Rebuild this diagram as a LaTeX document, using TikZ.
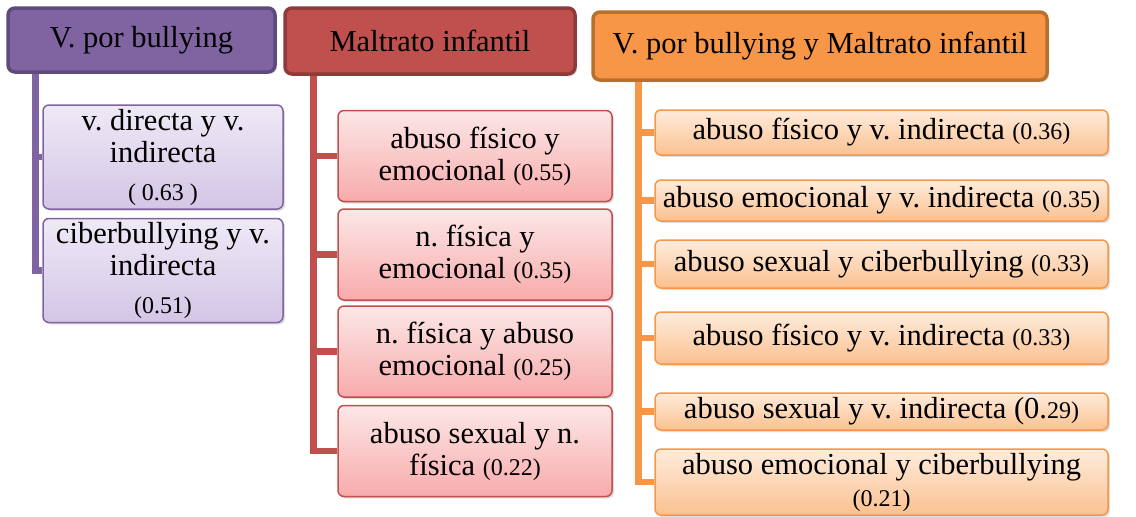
\documentclass[tikz,border=0pt]{standalone}
\usepackage{fontspec}
\setmainfont{Liberation Serif}
\usetikzlibrary{shadows,backgrounds}
\definecolor{vio}{HTML}{8064A2}
\definecolor{vioD}{HTML}{5E4A7B}
\definecolor{vioT}{HTML}{EFE9F6}
\definecolor{vioB}{HTML}{D3C6E6}
\definecolor{roj}{HTML}{C0504D}
\definecolor{rojD}{HTML}{8E3B39}
\definecolor{rojT}{HTML}{FCE7E7}
\definecolor{rojB}{HTML}{F8ABAB}
\definecolor{nar}{HTML}{F79646}
\definecolor{narD}{HTML}{B8702F}
\definecolor{narT}{HTML}{FEECDD}
\definecolor{narB}{HTML}{FBC190}
\tikzset{
	head/.style={draw, line width=3.5pt, rounded corners=7pt, inner sep=2pt,
		font=\fontsize{30.5}{32}\selectfont,
		drop shadow={opacity=0.25, shadow xshift=2pt, shadow yshift=-2pt}},
	leaf/.style={draw, line width=1.5pt, rounded corners=6pt, align=center, inner sep=1pt,
		font=\fontsize{30.5}{32}\selectfont,
		drop shadow={opacity=0.25, shadow xshift=2pt, shadow yshift=-2pt}},
	branch/.style={line width=6.5pt},
}
\newcommand{\pval}[1]{{\fontsize{24}{32}\selectfont #1}}
\frenchspacing
\begin{document}
\begin{tikzpicture}[x=1pt, y=-1pt]
	\useasboundingbox (0,0) rectangle (1136,517);
	\node[head, fill=vio, draw=vioD, minimum width=267, minimum height=64] (vb) at (141.5,40) {V. por bullying};
	\node[head, fill=roj, draw=rojD, minimum width=290, minimum height=66] (mi) at (430,41) {Maltrato infantil};
	\node[head, fill=nar, draw=narD, minimum width=454, minimum height=68] (vm) at (820,46) {V. por bullying y Maltrato infantil};
	\foreach \i/\y/\t in {1/157/{v. directa y v.\\ indirecta\\[6pt] \pval{( 0.63 )}},
		2/270.5/{ciberbullying y v.\\ indirecta\\[6pt] \pval{(0.51)}}}
	{
		\node[leaf, draw=vio, top color=vioT, bottom color=vioB, minimum width=240, minimum height=104] (vb\i) at (163,\y) {\t};
	};
	\foreach \i/\y/\t in {1/156/{abuso físico y\\ emocional \pval{(0.55)}},
		2/254.5/{n. física y\\ emocional \pval{(0.35)}},
		3/351.5/{n. física y abuso\\ emocional \pval{(0.25)}},
		4/451/{abuso sexual y n.\\ física \pval{(0.22)}}}
	{
		\node[leaf, draw=roj, top color=rojT, bottom color=rojB, minimum width=274, minimum height=91] (mi\i) at (475,\y) {\t};
	};
	\foreach \i/\y/\h/\t in {1/132.5/45/{abuso físico y v. indirecta \pval{(0.36)}},
		2/200.5/41/{abuso emocional y v. indirecta \pval{(0.35)}},
		3/264/48/{abuso sexual y ciberbullying \pval{(0.33)}},
		4/338/52/{abuso físico y v. indirecta \pval{(0.33)}},
		5/411.5/37/{abuso sexual y v. indirecta (0.\pval{29)}},
		6/482/66/{abuso emocional y ciberbullying\\ \pval{(0.21)}}}
	{
		\node[leaf, draw=nar, top color=narT, bottom color=narB, minimum width=453, minimum height=\h] (vm\i) at (881.5,\y) {\t};
	};
	\begin{pgfonlayer}{background}
		\foreach \i in {1,2}
			\draw[branch, vio] ([xshift=29pt]vb.south west) |- (vb\i.west);
		\foreach \i in {1,2,3,4}
			\draw[branch, roj] ([xshift=30pt]mi.south west) |- (mi\i.west);
		\foreach \i in {1,...,6}
			\draw[branch, nar] ([xshift=47pt]vm.south west) |- (vm\i.west);
	\end{pgfonlayer}
\end{tikzpicture}
\end{document}
